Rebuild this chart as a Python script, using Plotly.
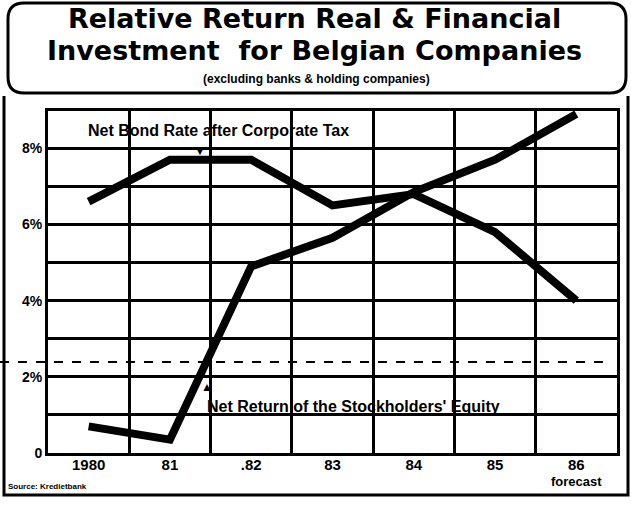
import plotly.graph_objects as go

years = ["1980", "81", ".82", "83", "84", "85", "86"]
forecast_note = "forecast"
bond_rate = [6.6, 7.7, 7.7, 6.5, 6.8, 5.8, 4.0]
equity_return = [0.7, 0.35, 4.9, 5.65, 6.85, 7.7, 8.9]
y_ticks = [0, 1, 2, 3, 4, 5, 6, 7, 8]
y_labels = ["0", "", "2%", "", "4%", "", "6%", "", "8%"]

xs = list(range(len(years)))
W, H = 631, 511
L, R, T, B = 48, 14, 111, 58
pw, ph = W - L - R, H - T - B

def px(x):
    return (x - L) / pw

def py(y):
    return (H - B - y) / ph

FONT = "Liberation Sans"
TFONT = "DejaVu Sans"
fig = go.Figure()
fig.add_trace(go.Scatter(x=xs, y=bond_rate, mode="lines",
                         line=dict(color="black", width=8), hoverinfo="skip"))
fig.add_trace(go.Scatter(x=xs, y=equity_return, mode="lines",
                         line=dict(color="black", width=8), hoverinfo="skip"))

fig.update_layout(
    width=W, height=H, margin=dict(l=L, r=R, t=T, b=B, autoexpand=False),
    paper_bgcolor="white", plot_bgcolor="white", showlegend=False,
    font=dict(family=FONT, color="black"),
    xaxis=dict(range=[-0.5, 6.5], tickvals=xs, ticktext=[f"<b>{t}</b>" for t in years],
               showgrid=False, zeroline=False, showline=True, linecolor="black",
               linewidth=3, mirror=True, ticks="", tickfont=dict(size=15, family=FONT),
               automargin=False, ticklabelstandoff=-4,
               minor=dict(tickvals=[0.5, 1.5, 2.5, 3.5, 4.5, 5.5], showgrid=True,
                          gridcolor="black", gridwidth=2.5, ticks="")),
    yaxis=dict(range=[0, 8.98], tickvals=y_ticks, ticktext=[f"<b>{t}</b>" for t in y_labels],
               showgrid=True, gridcolor="black", gridwidth=2.5, zeroline=False,
               showline=True, linecolor="black", linewidth=3, mirror=True, ticks="",
               automargin=False, tickfont=dict(size=14, family=FONT)),
)

shapes = []
# outer frame
shapes.append(dict(type="path", xref="paper", yref="paper",
                   path=f"M {px(4)},{py(96)} L {px(4)},{py(495)} L {px(628)},{py(495)} L {px(628)},{py(96)}",
                   line=dict(color="black", width=3)))
# title rounded box
x0, x1, y0, y1, r = 8, 626, 3, 93, 16
path = (f"M {px(x0+r)},{py(y0)} L {px(x1-r)},{py(y0)} "
        f"Q {px(x1)},{py(y0)} {px(x1)},{py(y0+r)} L {px(x1)},{py(y1-r)} "
        f"Q {px(x1)},{py(y1)} {px(x1-r)},{py(y1)} L {px(x0+r)},{py(y1)} "
        f"Q {px(x0)},{py(y1)} {px(x0)},{py(y1-r)} L {px(x0)},{py(y0+r)} "
        f"Q {px(x0)},{py(y0)} {px(x0+r)},{py(y0)} Z")
shapes.append(dict(type="path", xref="paper", yref="paper", path=path,
                   line=dict(color="black", width=3), fillcolor="white"))
# scan dashed artifact line
shapes.append(dict(type="line", xref="paper", yref="paper", x0=px(0), x1=px(612),
                   y0=py(362), y1=py(362), line=dict(color="black", width=2, dash="dash")))
fig.update_layout(shapes=shapes)

ann = []
ann.append(dict(xref="paper", yref="paper", x=px(314), y=py(18), showarrow=False,
                text="<b>Relative Return Real & Financial</b>",
                font=dict(size=27, family=TFONT), xanchor="center", yanchor="middle"))
ann.append(dict(xref="paper", yref="paper", x=px(314), y=py(51), showarrow=False,
                text="<b>Investment  for Belgian Companies</b>",
                font=dict(size=27, family=TFONT), xanchor="center", yanchor="middle"))
ann.append(dict(xref="paper", yref="paper", x=px(316), y=py(79), showarrow=False,
                text="<b>(excluding banks & holding companies)</b>",
                font=dict(size=12, family=FONT), xanchor="center", yanchor="middle"))
ann.append(dict(x=1.6, y=8.47, showarrow=False, text="<b>Net Bond Rate after Corporate Tax</b>",
                font=dict(size=16, family=FONT), xanchor="center", yanchor="middle"))
ann.append(dict(x=1.37, y=7.93, showarrow=False, text="▼",
                font=dict(size=12, family=FONT), xanchor="center", yanchor="middle"))
ann.append(dict(x=1.43, y=1.23, showarrow=False, text="<b>Net Return of the Stockholders' Equity</b>",
                font=dict(size=16, family=FONT), xanchor="left", yanchor="middle"))
ann.append(dict(x=1.46, y=1.72, showarrow=False, text="▲",
                font=dict(size=12, family=FONT), xanchor="center", yanchor="middle"))
ann.append(dict(x=xs[-1], xref="x", yref="paper", y=py(481), showarrow=False,
                text=f"<b>{forecast_note}</b>",
                font=dict(size=13, family=FONT), xanchor="center", yanchor="middle"))
ann.append(dict(xref="paper", yref="paper", x=px(6), y=py(486), showarrow=False,
                text="<b>Source: Kredietbank</b>",
                font=dict(size=8, family=FONT), xanchor="left", yanchor="middle"))
fig.update_layout(annotations=ann)

fig.write_html("out.html")
